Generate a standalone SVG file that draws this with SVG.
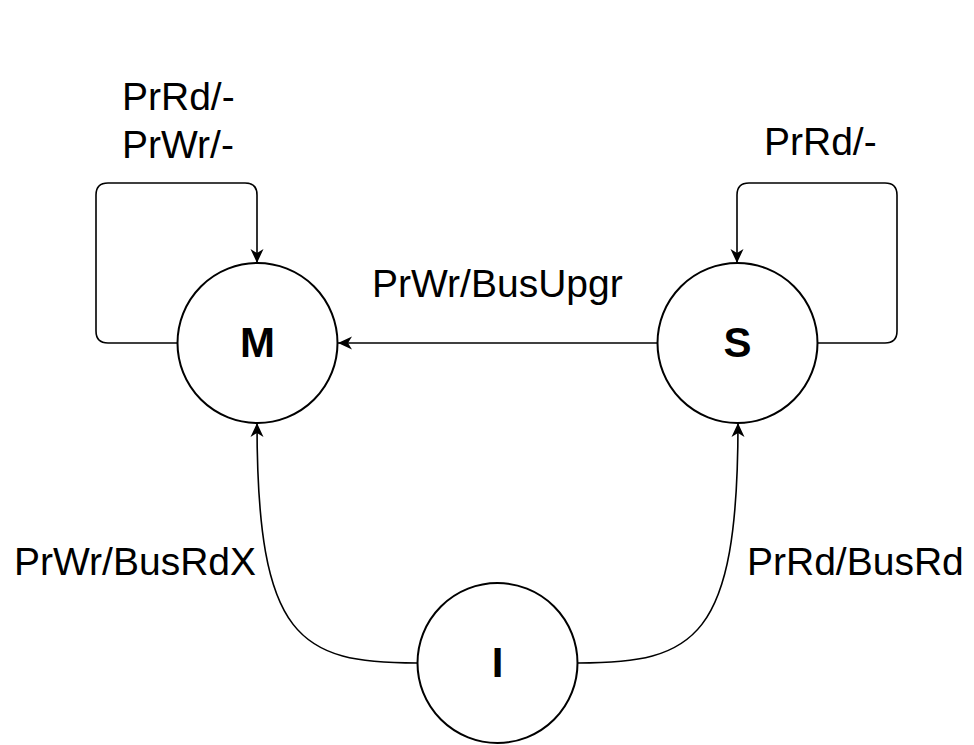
<svg xmlns="http://www.w3.org/2000/svg" width="974" height="745" viewBox="0 0 974 745">
<style>
.node{fill:#fff;stroke:#000;stroke-width:2}
.edge{fill:none;stroke:#000;stroke-width:1.6}
.nl{font-family:"Liberation Sans",Arial,sans-serif;font-weight:bold;font-size:42px;text-anchor:middle;fill:#000}
.el{font-family:"Liberation Sans",Arial,sans-serif;font-size:39px;fill:#000}
</style>
<defs>
<marker id="arr" markerUnits="userSpaceOnUse" markerWidth="14" markerHeight="14" viewBox="0 0 14 14" refX="14" refY="7" orient="auto">
<path d="M0,0.5 L14,7 L0,13.5 L4,7 z" fill="#000"/>
</marker>
</defs>
<rect width="974" height="745" fill="#fff"/>
<g id="connectors">
<path class="edge" d="M177,343 L108,343 Q96,343 96,331 L96,195 Q96,183 108,183 L245,183 Q257,183 257,195 L257,263" marker-end="url(#arr)"/>
<path class="edge" d="M818,343 L885,343 Q897,343 897,331 L897,195 Q897,183 885,183 L749,183 Q737,183 737,195 L737,263" marker-end="url(#arr)"/>
<path class="edge" d="M657,343 L338,343" marker-end="url(#arr)"/>
<path class="edge" d="M417,663 C300,663 257,640 257,423" marker-end="url(#arr)"/>
<path class="edge" d="M578,663 C695,663 738,640 738,423" marker-end="url(#arr)"/>
</g>
<g id="node-M">
<circle class="node" cx="257.5" cy="343" r="80"/>
<text class="nl" x="257.5" y="357">M</text>
</g>
<g id="node-S">
<circle class="node" cx="737.5" cy="343" r="80"/>
<text class="nl" x="737.5" y="357">S</text>
</g>
<g id="node-I">
<circle class="node" cx="497.5" cy="663" r="80"/>
<text class="nl" x="497.5" y="677">I</text>
</g>
<g id="labels">
<text class="el" x="122" y="110">PrRd/-</text>
<text class="el" x="122" y="158">PrWr/-</text>
<text class="el" x="764" y="155">PrRd/-</text>
<text class="el" x="372" y="297">PrWr/BusUpgr</text>
<text class="el" x="14" y="575">PrWr/BusRdX</text>
<text class="el" x="747" y="575">PrRd/BusRd</text>
</g>
</svg>
